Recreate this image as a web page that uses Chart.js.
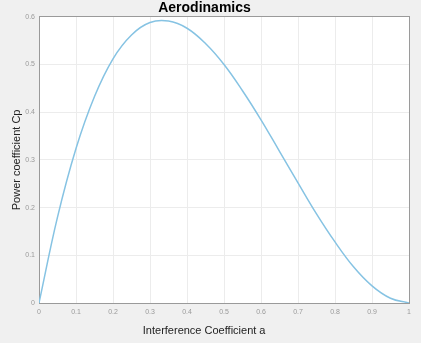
<!DOCTYPE html>
<html>
<head>
<meta charset="utf-8">
<script src="https://cdn.jsdelivr.net/npm/chart.js@4/dist/chart.umd.min.js"></script>
<style>
  html, body { margin: 0; padding: 0; background: #ffffff; }
  #wrap { width: 421px; height: 343px; background: #f0f0f0; }
</style>
</head>
<body>
<div id="wrap"><canvas id="chart" width="421" height="343"></canvas></div>
<script>
// Interference coefficient a (x) and power coefficient Cp (y)
const aValues = [0, 0.05, 0.1, 0.15, 0.2, 0.25, 0.3, 0.35, 0.4, 0.45, 0.5,
  0.55, 0.6, 0.65, 0.7, 0.75, 0.8, 0.85, 0.9, 0.95, 1];
const cpValues = [0, 0.180, 0.324, 0.433, 0.512, 0.562, 0.588, 0.591, 0.576, 0.544, 0.500,
  0.445, 0.384, 0.318, 0.252, 0.187, 0.128, 0.076, 0.036, 0.010, 0];
const chartTitle = "Aerodinamics";
const xTitle = "Interference Coefficient a";
const yTitle = "Power coefficient Cp";

const points = aValues.map((a, i) => ({ x: a, y: cpValues[i] }));

// white plot area on the grey figure background
const plotBackground = {
  id: "plotBackground",
  beforeDraw(chart) {
    const { ctx, chartArea } = chart;
    ctx.save();
    ctx.fillStyle = "#ffffff";
    ctx.fillRect(chartArea.left, chartArea.top, chartArea.width, chartArea.height);
    ctx.restore();
  },
};

const tickFont = { family: "Liberation Sans, Arial, sans-serif", size: 7 };
const labelFont = { family: "Liberation Sans, Arial, sans-serif", size: 11 };
const fmt = (v) => String(Number(v.toFixed(1)));

new Chart(document.getElementById("chart"), {
  type: "line",
  data: {
    datasets: [
      {
        data: points,
        borderColor: "#86c3e3",
        borderWidth: 1.5,
        pointRadius: 0,
        fill: false,
        tension: 0.4,
      },
    ],
  },
  options: {
    responsive: false,
    animation: false,
    layout: { padding: { left: 0, right: 12, top: 0, bottom: 5 } },
    plugins: {
      legend: { display: false },
      tooltip: { enabled: false },
      title: {
        display: true,
        text: chartTitle,
        color: "#000000",
        font: { family: "Liberation Sans, Arial, sans-serif", size: 14, weight: "bold" },
        padding: { top: 0, bottom: 0 },
      },
    },
    scales: {
      x: {
        type: "linear",
        min: 0,
        max: 1,
        ticks: { stepSize: 0.1, color: "#9a9a9a", font: tickFont, padding: 5, callback: fmt },
        grid: { color: "#ececec", drawTicks: false },
        border: { color: "#9a9a9a" },
        title: {
          display: true,
          text: xTitle + "             ",
          color: "#222222",
          font: labelFont,
          padding: { top: 4, bottom: 0 },
        },
        afterFit(scale) { scale.height = 35; },
      },
      y: {
        min: 0,
        max: 0.6,
        ticks: { stepSize: 0.1, color: "#9a9a9a", font: tickFont, padding: 4, callback: fmt },
        grid: { color: "#ececec", drawTicks: false },
        border: { color: "#9a9a9a" },
        title: {
          display: true,
          text: yTitle,
          color: "#222222",
          font: labelFont,
          padding: { top: 10, bottom: 0 },
        },
        afterFit(scale) { scale.width = 39; },
      },
      xTop: {
        type: "linear",
        position: "top",
        min: 0,
        max: 1,
        ticks: { display: false },
        grid: { display: false, drawTicks: false },
        border: { display: true, color: "#9a9a9a" },
      },
      yRight: {
        position: "right",
        min: 0,
        max: 0.6,
        ticks: { display: false },
        grid: { display: false, drawTicks: false },
        border: { display: true, color: "#9a9a9a" },
      },
    },
  },
  plugins: [plotBackground],
});
</script>
</body>
</html>
